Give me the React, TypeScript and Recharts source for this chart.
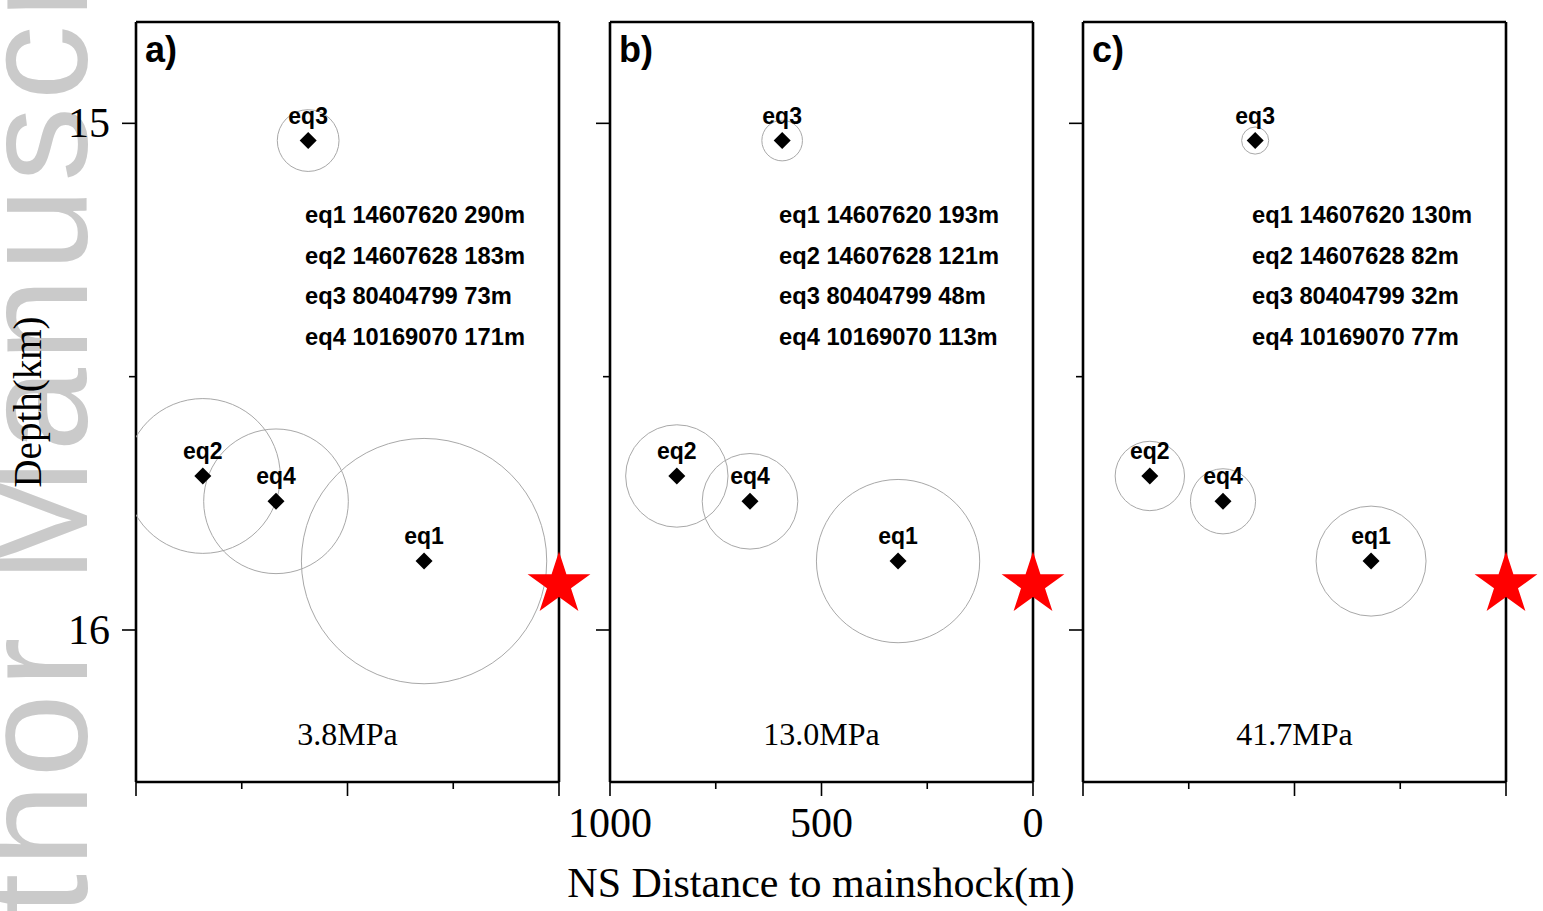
import { ScatterChart, Scatter, XAxis, YAxis } from 'recharts'

// event catalogue (same locations in all three panels)
const events = ['eq1', 'eq2', 'eq3', 'eq4']
const eventIds = ['14607620', '14607628', '80404799', '10169070']
const nsDistance = [319, 842, 593, 669] // m
const depths = [15.864, 15.696, 15.034, 15.746] // km

// source radius (m) for each stress drop
const radiiA = [290, 183, 73, 171]
const radiiB = [193, 121, 48, 113]
const radiiC = [130, 82, 32, 77]
const panelRadii = [radiiA, radiiB, radiiC]
const stressDrops = ['3.8MPa', '13.0MPa', '41.7MPa']
const panelTags = ['a)', 'b)', 'c)']

const mainshockX = [0]
const mainshockDepth = [15.91]

const xTicks = [0, 250, 500, 750, 1000]
const yTicks = [15, 15.5, 16]

const PLOT_TOP = 22
const PLOT_W = 423
const PLOT_H = 760
const PANEL_LEFT = [136, 610, 1083]
const SIDE = 60
const PX_PER_M = PLOT_W / 1000

const SERIF = '"Liberation Serif", "Times New Roman", serif'
const SANS = '"Liberation Sans", Arial, Helvetica, sans-serif'

const makeXTick = (side: 'top' | 'bottom', showLabel: boolean) => (props: any) => {
  const { x, y, payload } = props
  const v = payload.value
  const major = v % 500 === 0
  const len = major ? 14 : 7
  const dir = side === 'bottom' ? 1 : -1
  return (
    <g>
      <line x1={x} x2={x} y1={y} y2={y + dir * len} stroke="#000" strokeWidth={1.6} />
      {showLabel && major && (
        <text x={x} y={y + 55} textAnchor="middle" fontFamily={SERIF} fontSize={42} fill="#000">
          {v}
        </text>
      )}
    </g>
  )
}

const makeYTick = (side: 'left' | 'right', showLabel: boolean) => (props: any) => {
  const { x, y, payload } = props
  const v = payload.value
  const major = Number.isInteger(v)
  const len = major ? 14 : 7
  const dir = side === 'left' ? -1 : 1
  return (
    <g>
      <line x1={x} x2={x + dir * len} y1={y} y2={y} stroke="#000" strokeWidth={1.6} />
      {showLabel && major && (
        <text x={x - 26} y={y + 14} textAnchor="end" fontFamily={SERIF} fontSize={42} fill="#000">
          {v}
        </text>
      )}
    </g>
  )
}

function Panel({ idx }: { idx: number }) {
  const leftW = idx === 0 ? PANEL_LEFT[0] : SIDE
  const chartLeft = PANEL_LEFT[idx] - leftW
  const width = leftW + PLOT_W + SIDE
  const radii = panelRadii[idx]

  const data = events.map((name, i) => ({
    name,
    x: nsDistance[i],
    y: depths[i],
    r: radii[i],
  }))
  const star = mainshockX.map((x, i) => ({ x, y: mainshockDepth[i] }))

  const Ring = (props: any) => {
    const { cx, cy, payload } = props
    const id = `clip-${idx}-${payload.name}`
    return (
      <g>
        <defs>
          <clipPath id={id}>
            <rect x={leftW} y={PLOT_TOP} width={PLOT_W} height={PLOT_H} />
          </clipPath>
        </defs>
        <circle
          cx={cx}
          cy={cy}
          r={payload.r * PX_PER_M}
          fill="none"
          stroke="#a8a8a8"
          strokeWidth={1}
          clipPath={`url(#${id})`}
        />
      </g>
    )
  }

  const Mark = (props: any) => {
    const { cx, cy, payload } = props
    const d = 8.5
    return (
      <g>
        <polygon
          points={`${cx},${cy - d} ${cx + d},${cy} ${cx},${cy + d} ${cx - d},${cy}`}
          fill="#000"
        />
        <text
          x={cx}
          y={cy - 17}
          textAnchor="middle"
          fontFamily={SANS}
          fontWeight="bold"
          fontSize={23}
          fill="#000"
        >
          {payload.name}
        </text>
      </g>
    )
  }

  const Star = (props: any) => {
    const { cx, cy } = props
    const R = 33
    const r = R * 0.382
    const pts: string[] = []
    for (let k = 0; k < 10; k++) {
      const a = -Math.PI / 2 + (k * Math.PI) / 5
      const rr = k % 2 === 0 ? R : r
      pts.push(`${cx + rr * Math.cos(a)},${cy + rr * Math.sin(a)}`)
    }
    return <polygon points={pts.join(' ')} fill="#ff0000" />
  }

  const axisLine = { stroke: '#000', strokeWidth: 2.6 }

  return (
    <div style={{ position: 'absolute', left: chartLeft, top: 0 }}>
      <ScatterChart width={width} height={911} margin={{ top: PLOT_TOP - 14, right: 0, bottom: 0, left: 0 }}>
        <XAxis
          xAxisId="bottom"
          type="number"
          dataKey="x"
          orientation="bottom"
          domain={[0, 1000]}
          reversed
          ticks={xTicks}
          interval={0}
          height={911 - PLOT_TOP - PLOT_H}
          tickSize={0}
          tickMargin={0}
          axisLine={axisLine}
          tickLine={false}
          tick={makeXTick('bottom', idx === 1)}
        />
        <XAxis
          xAxisId="top"
          type="number"
          orientation="top"
          domain={[0, 1000]}
          reversed
          ticks={xTicks}
          interval={0}
          height={14}
          tickSize={0}
          tickMargin={0}
          axisLine={axisLine}
          tickLine={false}
          tick={makeXTick('top', false)}
        />
        <YAxis
          yAxisId="left"
          type="number"
          dataKey="y"
          orientation="left"
          domain={[14.8, 16.3]}
          reversed
          ticks={yTicks}
          interval={0}
          width={leftW}
          tickSize={0}
          tickMargin={0}
          axisLine={axisLine}
          tickLine={false}
          tick={makeYTick('left', idx === 0)}
        />
        <YAxis
          yAxisId="right"
          type="number"
          orientation="right"
          domain={[14.8, 16.3]}
          reversed
          ticks={yTicks}
          interval={0}
          width={SIDE}
          tickSize={0}
          tickMargin={0}
          axisLine={axisLine}
          tickLine={false}
          tick={makeYTick('right', false)}
        />
        <Scatter xAxisId="bottom" yAxisId="left" data={data} shape={Ring} isAnimationActive={false} />
        <Scatter xAxisId="bottom" yAxisId="left" data={data} shape={Mark} isAnimationActive={false} />
        <Scatter xAxisId="bottom" yAxisId="left" data={star} shape={Star} isAnimationActive={false} />
      </ScatterChart>
    </div>
  )
}

export default function App() {
  return (
    <div
      style={{
        position: 'absolute',
        left: 0,
        top: 0,
        width: 1543,
        height: 911,
        background: '#fff',
        overflow: 'hidden',
      }}
    >
      {/* watermark */}
      <svg width={1543} height={911} style={{ position: 'absolute', left: 0, top: 0 }}>
        <text
          transform="translate(87,1112) rotate(-90)"
          fontFamily={SANS}
          fontSize={150}
          letterSpacing={6.5}
          fill="#cacaca"
        >
          Author Manuscript
        </text>
      </svg>

      {[0, 1, 2].map((i) => (
        <Panel key={i} idx={i} />
      ))}

      {/* annotations */}
      <svg
        width={1543}
        height={911}
        style={{ position: 'absolute', left: 0, top: 0, pointerEvents: 'none' }}
      >
        <text
          transform="translate(41,402) rotate(-90)"
          textAnchor="middle"
          fontFamily={SERIF}
          fontSize={39}
          fill="#000"
        >
          Depth(km)
        </text>
        <text x={821} y={897} textAnchor="middle" fontFamily={SERIF} fontSize={42} fill="#000">
          NS Distance to mainshock(m)
        </text>
        {PANEL_LEFT.map((left, p) => (
          <g key={p}>
            <text x={left + 9} y={62} fontFamily={SANS} fontWeight="bold" fontSize={36} fill="#000">
              {panelTags[p]}
            </text>
            {events.map((ev, i) => (
              <text
                key={ev}
                x={left + 169}
                y={223 + i * 40.7}
                fontFamily={SANS}
                fontWeight="bold"
                fontSize={23.7}
                fill="#000"
              >
                {`${ev} ${eventIds[i]} ${panelRadii[p][i]}m`}
              </text>
            ))}
            <text
              x={left + PLOT_W / 2}
              y={745}
              textAnchor="middle"
              fontFamily={SERIF}
              fontSize={32}
              fill="#000"
            >
              {stressDrops[p]}
            </text>
          </g>
        ))}
      </svg>
    </div>
  )
}
